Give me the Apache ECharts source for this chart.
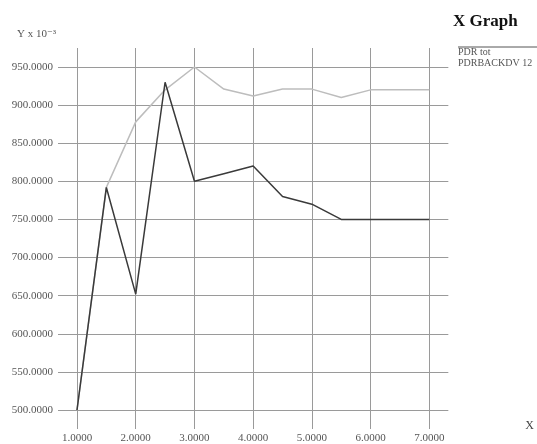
<!DOCTYPE html>
<html>
<head>
<meta charset="utf-8">
<script src="https://cdn.jsdelivr.net/npm/echarts@6/dist/echarts.min.js"></script>
<style>
  html, body { margin: 0; padding: 0; background: #fff; }
  #chart { width: 537px; height: 444px; }
</style>
</head>
<body>
<div id="chart"></div>
<script>
// values
const xValues = [1, 1.5, 2, 2.5, 3, 3.5, 4, 4.5, 5, 5.5, 6, 6.5, 7]
const pdrTot = [500, 792, 652, 930, 800, 810, 820, 780, 770, 750, 750, 750, 750]
const pdrBack = [500, 792, 878, 920, 950, 921, 912, 921, 921, 910, 920, 920, 920]
const seriesNames = ['PDR tot', 'PDRBACKDV 12']

const serif = "'Liberation Serif', 'DejaVu Serif', serif"
const gridColor = '#9a9a9a'
const pairs = (ys) => xValues.map((x, i) => [x, ys[i]])

const chart = echarts.init(document.getElementById('chart'))

// extra axes only used to draw the grid lines past the plot edge
const tickOnly = {
  axisLine: { show: false },
  axisTick: { show: true, length: 19, lineStyle: { color: gridColor } },
  axisLabel: { show: false },
  splitLine: { show: false }
}

chart.setOption({
  animation: false,
  textStyle: { fontFamily: serif },
  title: {
    text: 'X Graph',
    left: 448,
    top: 8,
    textStyle: { fontFamily: serif, fontSize: 17, fontWeight: 'bold', color: '#111' }
  },
  grid: { left: 77, right: 102, top: 67, bottom: 32 },
  xAxis: [
    {
      type: 'value',
      position: 'bottom',
      min: 1,
      max: 7,
      interval: 1,
      axisLine: { show: false },
      axisTick: { show: true, length: 19, lineStyle: { color: gridColor } },
      splitLine: { show: true, lineStyle: { color: gridColor, width: 1 } },
      axisLabel: {
        margin: 23,
        fontSize: 11,
        color: '#555',
        fontFamily: serif,
        formatter: (v) => v.toFixed(4)
      },
      name: 'X',
      nameLocation: 'end',
      nameGap: 96,
      nameTextStyle: { fontFamily: serif, fontSize: 12, color: '#444', verticalAlign: 'top', padding: [10, 0, 0, 0] }
    },
    Object.assign({ type: 'value', position: 'top', min: 1, max: 7, interval: 1 }, tickOnly)
  ],
  yAxis: [
    {
      type: 'value',
      position: 'left',
      min: 500,
      max: 950,
      interval: 50,
      axisLine: { show: false },
      axisTick: { show: true, length: 19, lineStyle: { color: gridColor } },
      splitLine: { show: true, lineStyle: { color: gridColor, width: 1 } },
      axisLabel: {
        margin: 24,
        fontSize: 11,
        color: '#555',
        fontFamily: serif,
        formatter: (v) => v.toFixed(4)
      },
      name: 'Y x 10⁻³',
      nameLocation: 'end',
      nameGap: 27,
      nameTextStyle: { fontFamily: serif, fontSize: 11, color: '#555', align: 'right', padding: [0, 21, 0, 0] }
    },
    Object.assign({ type: 'value', position: 'right', min: 500, max: 950, interval: 50 }, tickOnly)
  ],
  graphic: [
    { type: 'line', shape: { x1: 458, y1: 47, x2: 537, y2: 47 }, style: { stroke: '#555', lineWidth: 1 } },
    { type: 'text', x: 458, y: 52, style: { text: seriesNames[0], font: '10px ' + serif, fill: '#555', verticalAlign: 'middle' } },
    { type: 'text', x: 458, y: 63, style: { text: seriesNames[1], font: '10px ' + serif, fill: '#555', verticalAlign: 'middle' } }
  ],
  series: [
    {
      name: seriesNames[1],
      type: 'line',
      data: pairs(pdrBack),
      showSymbol: false,
      z: 2,
      lineStyle: { color: '#bdbdbd', width: 1.5 }
    },
    {
      name: seriesNames[0],
      type: 'line',
      data: pairs(pdrTot),
      showSymbol: false,
      z: 3,
      lineStyle: { color: '#3a3a3a', width: 1.5 }
    }
  ]
})
</script>
</body>
</html>
